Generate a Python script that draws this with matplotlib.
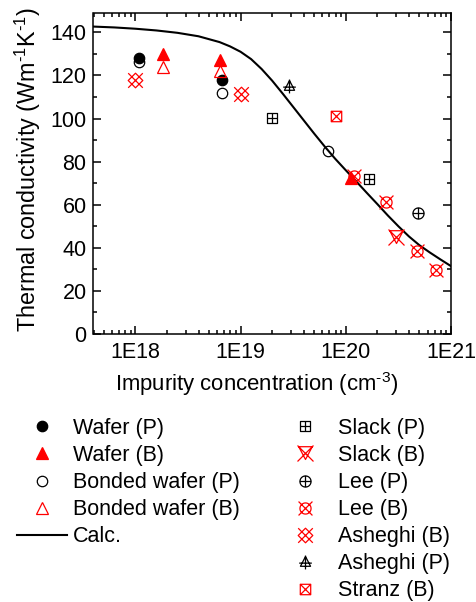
import numpy as np
import matplotlib
matplotlib.use("Agg")
import matplotlib.pyplot as plt
from matplotlib.path import Path
from matplotlib.lines import Line2D
from matplotlib.ticker import FixedLocator, MultipleLocator, FuncFormatter, NullFormatter

plt.rcParams['font.family'] = ['Liberation Sans', 'DejaVu Sans']
plt.rcParams['mathtext.fontset'] = 'custom'
plt.rcParams['mathtext.rm'] = 'Liberation Sans'
plt.rcParams['mathtext.it'] = 'Liberation Sans:italic'
plt.rcParams['mathtext.bf'] = 'Liberation Sans:bold'

FS = 15.5
RED = '#ff0000'

# ---- measured thermal conductivity (W m^-1 K^-1) vs impurity concentration (cm^-3)
wafer_p_x = [1.09e18, 6.7e18]
wafer_p_y = [128.0, 117.7]
wafer_b_x = [1.85e18, 6.37e18, 1.12e20]
wafer_b_y = [129.8, 127.1, 72.4]
bonded_p_x = [1.09e18, 6.7e18, 6.8e19]
bonded_p_y = [126.2, 112.0, 84.8]
bonded_b_x = [1.85e18, 6.37e18]
bonded_b_y = [124.0, 122.0]

slack_p_x = [1.99e19, 1.67e20]
slack_p_y = [100.3, 72.0]
slack_b_x = [2.99e20]
slack_b_y = [45.2]
lee_p_x = [4.86e20]
lee_p_y = [56.1]
lee_b_x = [1.21e20, 2.40e20, 4.79e20, 7.24e20]
lee_b_y = [73.2, 61.5, 38.7, 29.8]
asheghi_b_x = [1.0e18, 1.0e19]
asheghi_b_y = [118.1, 111.2]
asheghi_p_x = [2.87e19]
asheghi_p_y = [114.9]
stranz_b_x = [8.1e19]
stranz_b_y = [101.4]

# ---- calculated curve (log10 of concentration, conductivity)
calc_logx = [17.6, 17.8, 18.0, 18.2, 18.4, 18.6, 18.8, 18.9,
             19.0, 19.1, 19.2, 19.3, 19.4, 19.5, 19.6, 19.7, 19.8, 19.9,
             20.0, 20.1, 20.2, 20.3, 20.4, 20.5, 20.6, 20.7, 20.8, 20.9, 21.0]
calc_y = [142.7, 142.3, 141.7, 140.9, 139.8, 138.2, 135.5, 133.5,
          131.0, 127.6, 123.0, 117.6, 111.6, 105.4, 99.2, 93.0, 87.0, 81.3,
          76.0, 70.8, 65.5, 60.3, 55.0, 50.0, 45.3, 41.2, 37.8, 34.6, 31.5]
calc_x = 10.0 ** np.array(calc_logx)

x_ticks = [1e18, 1e19, 1e20, 1e21]
y_ticks = [0, 20, 40, 60, 80, 100, 120, 140]


# ---- composite open markers
def compound(*parts):
    verts, codes = [], []
    for pts, closed in parts:
        verts.extend(pts)
        codes.extend([Path.MOVETO] + [Path.LINETO] * (len(pts) - 1))
        if closed:
            verts.append(pts[0])
            codes.append(Path.CLOSEPOLY)
    return Path(verts, codes)


def circle(r, n=48):
    t = np.linspace(0, 2 * np.pi, n, endpoint=False)
    return [(r * np.cos(a), r * np.sin(a)) for a in t]


square = [(-1, -1), (1, -1), (1, 1), (-1, 1)]
plus = [([(-1, 0), (1, 0)], False), ([(0, -1), (0, 1)], False)]
cross = [([(-1, -1), (1, 1)], False), ([(-1, 1), (1, -1)], False)]

m_sq_plus = compound((square, True), *plus)
m_sq_x = compound((square, True), *cross)
m_circ_plus = compound((circle(1.0), True), *plus)
m_circ_x = compound((circle(0.8), True), *cross)
m_tri_down_x = compound(([(-0.85, 0.85), (0.85, 0.85), (0, -0.75)], True), *cross)
m_tri_plus = compound(([(-0.8, -0.6), (0.8, -0.6), (0, 0.95)], True),
                      ([(0, -1.1), (0, 1.1)], False),
                      ([(-1.0, -0.1), (1.0, -0.1)], False))
m_lattice = compound(([(0, 1), (1, 0), (0, -1), (-1, 0)], True), *cross)

fig = plt.figure(figsize=(4.77, 6.02), dpi=100)
ax = fig.add_axes([93.5 / 477, 1 - 334 / 602, (451 - 93.5) / 477, (334 - 13) / 602])

ax.plot(calc_x, calc_y, color='black', lw=1.5, zorder=2)

MEW = 0.9
styles = [
    (wafer_p_x, wafer_p_y, dict(marker='o', ms=7.5, mfc='black', mec='black')),
    (wafer_b_x, wafer_b_y, dict(marker='^', ms=9, mfc=RED, mec=RED)),
    (bonded_p_x, bonded_p_y, dict(marker='o', ms=7.5, mfc='none', mec='black')),
    (bonded_b_x, bonded_b_y, dict(marker='^', ms=9, mfc='none', mec=RED)),
    (slack_p_x, slack_p_y, dict(marker=m_sq_plus, ms=7.5, mfc='none', mec='black')),
    (slack_b_x, slack_b_y, dict(marker=m_tri_down_x, ms=11.5, mfc='none', mec=RED)),
    (lee_p_x, lee_p_y, dict(marker=m_circ_plus, ms=8, mfc='none', mec='black')),
    (lee_b_x, lee_b_y, dict(marker=m_circ_x, ms=10, mfc='none', mec=RED)),
    (asheghi_b_x, asheghi_b_y, dict(marker=m_lattice, ms=10.5, mfc='none', mec=RED)),
    (asheghi_p_x, asheghi_p_y, dict(marker=m_tri_plus, ms=10, mfc='none', mec='black')),
    (stranz_b_x, stranz_b_y, dict(marker=m_sq_x, ms=7.5, mfc='none', mec=RED)),
]
for xs, ys, st in styles:
    ax.plot(xs, ys, linestyle='none', mew=MEW, zorder=3, **st)

ax.set_xscale('log')
ax.set_xlim(4.0e17, 1.0e21)
ax.set_ylim(0, 149)

ax.xaxis.set_major_locator(FixedLocator(x_ticks))
ax.xaxis.set_major_formatter(FuncFormatter(lambda v, p: "1E%d" % int(round(np.log10(v)))))
minor_x = [m * 10.0 ** e for e in range(17, 21) for m in range(2, 10)]
ax.xaxis.set_minor_locator(FixedLocator(minor_x))
ax.xaxis.set_minor_formatter(NullFormatter())
ax.yaxis.set_major_locator(FixedLocator(y_ticks))
ax.yaxis.set_minor_locator(MultipleLocator(10))

ax.tick_params(which='both', direction='in', top=True, right=True,
               labelsize=FS, width=1.1)
ax.tick_params(which='major', length=5.8)
ax.tick_params(which='minor', length=2.9)
ax.tick_params(axis='x', which='major', pad=6)
ax.tick_params(axis='y', which='major', pad=5)
for s in ax.spines.values():
    s.set_linewidth(1.1)

ax.set_xlabel('Impurity concentration (cm$^{\u20103}$)', fontsize=15.9, labelpad=5)
ax.set_ylabel('Thermal conductivity (Wm$^{\u20101}$K$^{\u20101}$)', fontsize=16.8, labelpad=5)
ax.xaxis.label.set_x(0.457)
ax.yaxis.label.set_y(0.511)


def handle(st):
    return Line2D([], [], linestyle='none', mew=MEW, **st)


left_handles = [handle(styles[i][2]) for i in range(4)] + \
               [Line2D([], [], color='black', lw=1.5)]
left_labels = ['Wafer (P)', 'Wafer (B)', 'Bonded wafer (P)', 'Bonded wafer (B)', 'Calc.']
right_handles = [handle(styles[i][2]) for i in range(4, 11)]
right_labels = ['Slack (P)', 'Slack (B)', 'Lee (P)', 'Lee (B)',
                'Asheghi (B)', 'Asheghi (P)', 'Stranz (B)']

common = dict(frameon=False, fontsize=FS, loc='upper left', borderpad=0,
              borderaxespad=0, handlelength=2.3, labelspacing=0.28, numpoints=1)
leg1 = fig.legend(left_handles, left_labels,
                  bbox_to_anchor=(17 / 477, 1 - 418 / 602), handletextpad=0.28, **common)
leg2 = fig.legend(right_handles, right_labels,
                  bbox_to_anchor=(280.7 / 477, 1 - 418 / 602), handletextpad=0.35, **common)

fig.savefig('out.png', dpi=100)
